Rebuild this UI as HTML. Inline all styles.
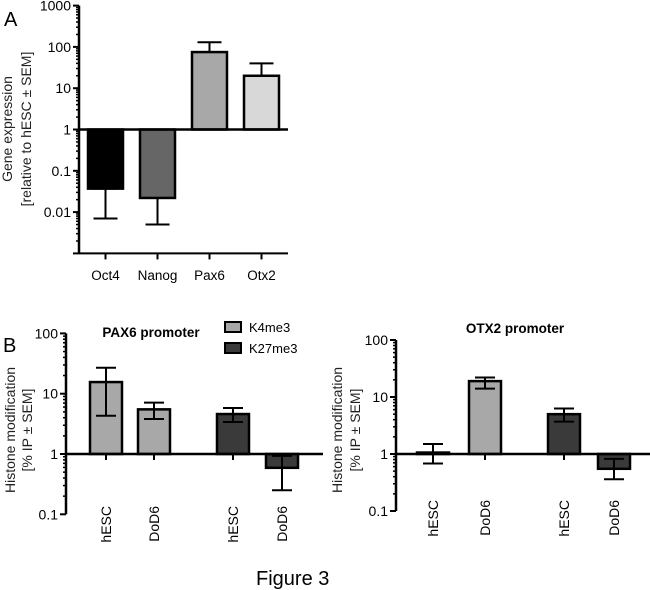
<!DOCTYPE html>
<html><head><meta charset="utf-8"><style>
body{margin:0;background:#fff;}
svg{display:block;font-family:"Liberation Sans",sans-serif;}
</style></head><body>
<svg id="fig" width="650" height="590" viewBox="0 0 650 590" xmlns="http://www.w3.org/2000/svg">
<text x="4" y="26" font-size="20">A</text>
<text x="3" y="352" font-size="20">B</text>
<text x="256" y="585" font-size="20">Figure 3</text>
<text x="151" y="337" font-size="13.5" font-weight="bold" text-anchor="middle">PAX6 promoter</text>
<text x="515" y="333" font-size="13.5" font-weight="bold" text-anchor="middle">OTX2 promoter</text>
<rect x="225" y="322" width="16" height="10" fill="#a8a8a8" stroke="#000" stroke-width="2"/>
<text x="249" y="332" font-size="13">K4me3</text>
<rect x="225" y="343" width="16" height="10" fill="#3a3a3a" stroke="#000" stroke-width="2"/>
<text x="249" y="353" font-size="13">K27me3</text>
</svg>
<script>
// Panel A data
const catsA = ["Oct4","Nanog","Pax6","Otx2"];
const valsA = [0.037,0.022,75,20];
const errA = [0.007,0.005,130,40];
const colorsA = ["#000000","#666666","#a8a8a8","#d8d8d8"];
const ticksA = ["1000","100","10","1","0.1","0.01"];
// Panel B PAX6
const catsB = ["hESC","DoD6","hESC","DoD6"];
const valsPax = [15.6,5.5,4.6,0.59];
const errHiPax = [27,7.1,5.8,0.93];
const errLoPax = [4.3,3.8,3.4,0.25];
// Panel B OTX2
const valsOtx = [1.06,19,5.0,0.55];
const errHiOtx = [1.5,22,6.3,0.82];
const errLoOtx = [0.68,14,3.7,0.36];
const colorsB = ["#a8a8a8","#a8a8a8","#3a3a3a","#3a3a3a"];
const ticksB = ["100","10","1","0.1"];

const svg = document.getElementById('fig');
const NS = "http://www.w3.org/2000/svg";
function mk(tag, attrs, name){
  const e = document.createElementNS(NS, tag);
  for (const k in attrs) e.setAttribute(k, attrs[k]);
  
  
  svg.appendChild(e); return e;
}
function panel(o){
  const y = v => o.yOne - Math.log10(v) * o.dec;
  mk('line',{x1:o.ax,y1:y(o.top),x2:o.ax,y2:y(o.bot),stroke:'#000','stroke-width':2.5},o.p+'-y-axis');
  for (let d = Math.log10(o.bot); d <= Math.log10(o.top); d++){
    const yy = y(Math.pow(10,d));
    mk('line',{x1:o.ax-6,y1:yy,x2:o.ax,y2:yy,stroke:'#000','stroke-width':2},o.p+'-major-tick');
    if (d < Math.log10(o.top)) for (let m=2;m<10;m++){
      const ym = y(m*Math.pow(10,d));
      mk('line',{x1:o.ax-3,y1:ym,x2:o.ax,y2:ym,stroke:'#000','stroke-width':1.5},o.p+'-minor-tick');
    }
  }
  o.ticks.forEach(t=>{
    const tx = mk('text',{x:o.ax-8,y:y(parseFloat(t))+5,'font-size':o.fs,'text-anchor':'end'},o.p+'-tick-label');
    tx.textContent = t;
  });
  o.vals.forEach((v,i)=>{
    const x0 = o.bx[i], w = o.bw;
    const yv = y(v), y1 = y(1);
    const top = Math.min(yv,y1), h = Math.abs(yv-y1);
    const cx = x0 + w/2;
    const eh = y(o.hi[i]), el = y(o.lo[i]);
    mk('rect',{x:x0,y:top,width:w,height:h,fill:o.colors[i],stroke:'#000','stroke-width':2.5},o.p+'-bar-'+o.cats[i].toLowerCase());
    mk('line',{x1:cx,y1:eh,x2:cx,y2:el,stroke:'#000','stroke-width':2},o.p+'-error-bar');
    mk('line',{x1:cx-o.cap,y1:eh,x2:cx+o.cap,y2:eh,stroke:'#000','stroke-width':2},o.p+'-error-cap');
    mk('line',{x1:cx-o.cap,y1:el,x2:cx+o.cap,y2:el,stroke:'#000','stroke-width':2},o.p+'-error-cap');
  });
  mk('line',{x1:o.ax,y1:y(1),x2:o.bend,y2:y(1),stroke:'#000','stroke-width':2.5},o.p+'-baseline');
  if (o.xaxis){
    mk('line',{x1:o.ax,y1:y(o.bot),x2:o.bend,y2:y(o.bot),stroke:'#000','stroke-width':2},o.p+'-x-axis');
  }
  o.cats.forEach((c,i)=>{
    const cx = o.bx[i]+o.bw/2;
    if (o.xaxis){
      mk('line',{x1:cx,y1:y(o.bot),x2:cx,y2:y(o.bot)+6,stroke:'#000','stroke-width':2},o.p+'-x-tick');
      const t = mk('text',{x:cx,y:o.lblY,'font-size':13.5,'text-anchor':'middle'},o.p+'-x-label');
      t.textContent = c;
    } else {
      if (o.vals[i] >= 1) mk('line',{x1:cx,y1:y(1),x2:cx,y2:y(1)+6,stroke:'#000','stroke-width':2},o.p+'-x-tick');
      const t = mk('text',{x:0,y:0,'font-size':14,'text-anchor':'end',transform:`translate(${cx+5},${o.lblY}) rotate(-90)`},o.p+'-x-label');
      t.textContent = c;
    }
  });
  o.ytitle.forEach((s,k)=>{
    const t = mk('text',{x:0,y:0,'font-size':14,'text-anchor':'middle',fill:'#222',transform:`translate(${o.ytx[k]},${o.yty}) rotate(-90)`},o.p+'-y-axis-title');
    t.textContent = s;
  });
}
panel({p:'a',ax:79,yOne:129.5,dec:41.3,top:1000,bot:0.001,ticks:ticksA,fs:14,
  cats:catsA,vals:valsA,hi:valsA.map((v,i)=>v>=1?errA[i]:v),lo:valsA.map((v,i)=>v<1?errA[i]:v),
  colors:colorsA,bx:[88,140,192,244],bw:35,bend:288,cap:12,
  xaxis:true,lblY:280,ytitle:["Gene expression","[relative to hESC ± SEM]"],ytx:[12,31],yty:129});
panel({p:'pax6',ax:66,yOne:454,dec:60.3,top:100,bot:0.1,ticks:ticksB,fs:14,
  cats:catsB,vals:valsPax,hi:errHiPax,lo:errLoPax,colors:colorsB,bx:[90,138,217,266],bw:32,bend:323,cap:10,
  xaxis:false,lblY:506,ytitle:["Histone modification","[% IP ± SEM]"],ytx:[15,32],yty:430});
panel({p:'otx2',ax:396,yOne:454,dec:57,top:100,bot:0.1,ticks:ticksB,fs:14,
  cats:catsB,vals:valsOtx,hi:errHiOtx,lo:errLoOtx,colors:colorsB,bx:[417,469,548,598],bw:32,bend:650,cap:10,
  xaxis:false,lblY:500,ytitle:["Histone modification","[% IP ± SEM]"],ytx:[342,360],yty:430});
</script>
</body></html>
